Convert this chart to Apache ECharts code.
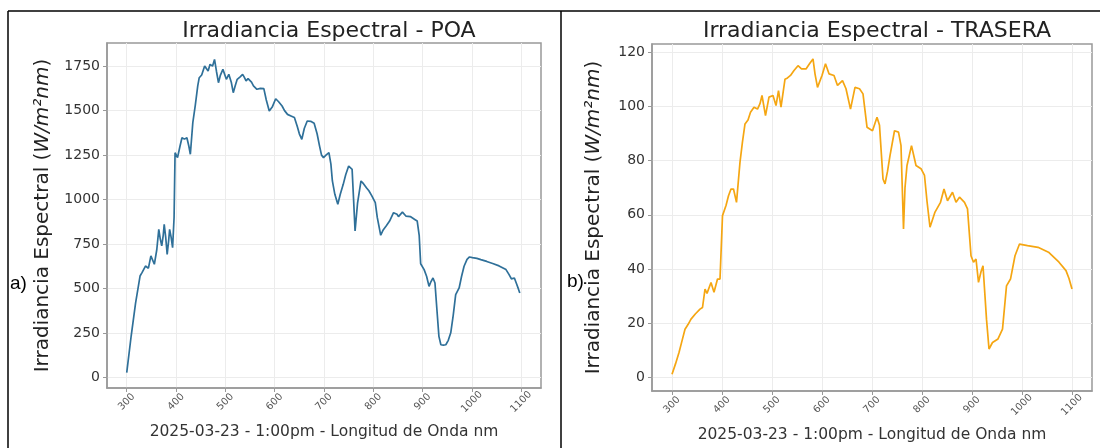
<!DOCTYPE html>
<html>
<head>
    <meta charset="utf-8">
    <title>Irradiancia Espectral</title>
    <script src="https://cdn.jsdelivr.net/npm/echarts@6/dist/echarts.min.js"></script>
    <style>
        html, body { margin: 0; padding: 0; background: #fff; }
    </style>
</head>
<body>
    <div id="main" style="width: 1107px;height:448px;"></div>
    <script type="text/javascript">
        // ticks
        var xTicks = [300, 400, 500, 600, 700, 800, 900, 1000, 1100];
        var poaTicks = [0, 250, 500, 750, 1000, 1250, 1500, 1750];
        var traTicks = [0, 20, 40, 60, 80, 100, 120];

        // POA (frontal)
        var poaNm = [300, 309, 318, 327, 331, 338, 344, 349, 356, 361, 365, 368, 371, 374, 376, 379, 382, 385, 387, 390,
            393, 396, 398, 403, 408, 412, 417, 422, 426, 429, 434, 439, 444, 447, 452, 458, 462, 465, 469, 474,
            478, 482, 486, 490, 495, 499, 502, 507, 512, 516, 520, 524, 530, 535, 538, 542, 546, 549, 553, 557,
            560, 564, 571, 578, 583, 589, 595, 602, 608, 615, 620, 626, 633, 640, 646, 650, 655, 660, 666, 673,
            680, 686, 691, 695, 699, 704, 710, 714, 717, 722, 728, 733, 739, 744, 750, 754, 757, 760, 763, 768,
            775, 780, 786, 791, 797, 800, 804, 808, 815, 820, 826, 833, 841, 845, 848, 851, 855, 859, 866, 875,
            884, 889, 893, 896, 903, 908, 913, 917, 921, 925, 929, 933, 937, 942, 947, 952, 957, 962, 967, 974,
            979, 984, 990, 995, 1001, 1010, 1018, 1030, 1042, 1055, 1069, 1075, 1080, 1086, 1090, 1094, 1097];
        var poaVal = [28, 234, 420, 571, 590, 627, 615, 684, 637, 720, 833, 780, 740, 800, 861, 790, 693, 770, 833, 790,
            730, 900, 1264, 1236, 1300, 1348, 1340, 1348, 1300, 1255, 1433, 1530, 1639, 1685, 1700, 1751, 1740, 1723, 1760, 1750,
            1788, 1720, 1657, 1700, 1732, 1700, 1676, 1704, 1660, 1601, 1640, 1676, 1690, 1704, 1690, 1667, 1680, 1685, 1660, 1639,
            1640, 1620, 1625, 1624, 1560, 1498, 1520, 1567, 1550, 1526, 1500, 1479, 1470, 1461, 1410, 1370, 1339, 1400, 1442, 1440,
            1429, 1370, 1301, 1250, 1236, 1250, 1264, 1200, 1105, 1030, 974, 1030, 1086, 1140, 1189, 1200, 1170, 1000, 824, 980,
            1105, 1090, 1067, 1050, 1021, 1010, 983, 900, 800, 830, 852, 880, 927, 935, 918, 905, 907, 930, 908, 905,
            889, 880, 800, 640, 607, 570, 513, 540, 560, 532, 380, 232, 185, 183, 185, 210, 252, 350, 466, 504,
            570, 626, 665, 678, 674, 670, 663, 653, 641, 628, 607, 580, 555, 560, 530, 500, 476];

        // TRASERA (posterior)
        var traNm = [300, 307, 314, 320, 326, 332, 338, 347, 356, 361, 366, 370, 373, 378, 384, 391, 396, 401, 408, 413,
            418, 423, 429, 436, 441, 446, 452, 457, 464, 471, 476, 480, 487, 494, 502, 508, 513, 518, 526, 531,
            537, 544, 552, 559, 568, 575, 582, 586, 591, 600, 607, 614, 624, 631, 641, 648, 657, 666, 675, 682,
            690, 701, 710, 715, 722, 726, 731, 736, 745, 753, 758, 763, 766, 770, 779, 788, 798, 805, 810, 816,
            826, 837, 844, 851, 861, 868, 875, 885, 891, 898, 903, 908, 913, 918, 922, 929, 934, 941, 952, 961,
            969, 977, 986, 995, 1011, 1032, 1053, 1074, 1088, 1094, 1100];
        var traVal = [1.2, 5, 9.2, 13.5, 17.8, 19.5, 21.5, 23.5, 25.2, 25.8, 32.6, 31, 31.4, 35, 31.4, 36.3, 36.3, 59.7, 63.4, 67,
            69.5, 69.5, 64.6, 79.4, 87, 93.5, 95, 97.8, 99.7, 99, 101, 104, 96.6, 103.4, 104, 100.3, 105.8, 99.7, 110, 110.5,
            111.4, 113.2, 115, 113.8, 113.8, 115.7, 117.5, 112, 107, 111.4, 115.7, 112, 111.4, 107.7, 109.5, 106.5, 99, 107, 106.5, 104.6,
            92.3, 91, 96, 93, 73.2, 71.4, 76, 81.8, 91, 90.5, 85.5, 54.8, 70, 78.2, 85.5, 78.2, 77, 74.5, 65, 55.4,
            61, 64.6, 69.5, 65.2, 68.3, 64.6, 66.5, 64.6, 62.2, 44.9, 42.5, 43.7, 35.1, 39, 41.2, 21.5, 10.5, 12.9, 14.2, 17.8,
            33.8, 36.3, 44.9, 49.2, 48.6, 48, 46.2, 42.5, 39.4, 36.5, 32.6];

        function pairs(xs, ys) {
            var out = [];
            for (var i = 0; i < xs.length; i++) {
                out.push([xs[i], ys[i]]);
            }
            return out;
        }

        // sin separador de miles
        function plain(v) {
            return String(v);
        }

        var fontFam = 'DejaVu Sans';
        var yName = '{n|Irradiancia Espectral (}{i|W/m²nm}{n|)}';

        function xAxisCfg(idx) {
            return {
                type: 'value',
                gridIndex: idx,
                min: 260,
                max: 1140,
                name: '2025-03-23 - 1:00pm - Longitud de Onda nm',
                nameLocation: 'middle',
                nameGap: 36,
                nameTextStyle: { fontFamily: fontFam, fontSize: 15.5, color: '#333' },
                axisLine: { show: true, onZero: false, lineStyle: { color: '#999', width: 1.5 } },
                axisTick: { show: true, length: 4, customValues: xTicks, lineStyle: { color: '#999' } },
                axisLabel: {
                    customValues: xTicks,
                    formatter: plain,
                    rotate: 45,
                    align: 'center',
                    verticalAlign: 'middle',
                    margin: 14,
                    fontFamily: fontFam,
                    fontSize: 10,
                    color: '#555'
                },
                splitLine: { show: true, lineStyle: { color: '#ececec', width: 1 } }
            };
        }

        function yAxisCfg(idx, min, max, ticks, gap) {
            return {
                type: 'value',
                gridIndex: idx,
                min: min,
                max: max,
                name: yName,
                nameLocation: 'middle',
                nameGap: gap,
                nameTextStyle: {
                    rich: {
                        n: { fontFamily: fontFam, fontSize: 20, color: '#222' },
                        i: { fontFamily: fontFam, fontSize: 20, fontStyle: 'italic', color: '#222' }
                    }
                },
                axisLine: { show: true, onZero: false, lineStyle: { color: '#999', width: 1.5 } },
                axisTick: { show: true, length: 4, customValues: ticks, lineStyle: { color: '#999' } },
                axisLabel: { customValues: ticks, formatter: plain, margin: 7, fontFamily: fontFam, fontSize: 14, color: '#333' },
                splitLine: { show: true, lineStyle: { color: '#ececec', width: 1 } }
            };
        }

        var chart = echarts.init(document.getElementById('main'));
        var option = {
            animation: false,
            backgroundColor: '#fff',
            title: [
                {
                    text: 'Irradiancia Espectral - POA',
                    left: 324, top: 15, textAlign: 'center',
                    textStyle: { fontFamily: fontFam, fontSize: 22, fontWeight: 'normal', color: '#222' }
                },
                {
                    text: 'Irradiancia Espectral - TRASERA',
                    left: 872, top: 15, textAlign: 'center',
                    textStyle: { fontFamily: fontFam, fontSize: 22, fontWeight: 'normal', color: '#222' }
                }
            ],
            grid: [
                { left: 107, top: 43, width: 434, height: 345, show: true, borderColor: '#999', borderWidth: 1.5 },
                { left: 652, top: 44, width: 440, height: 348, show: true, borderColor: '#999', borderWidth: 1.5 }
            ],
            xAxis: [xAxisCfg(0), xAxisCfg(1)],
            yAxis: [
                yAxisCfg(0, -58, 1880, poaTicks, 54),
                yAxisCfg(1, -5, 123, traTicks, 48)
            ],
            series: [
                {
                    name: 'POA',
                    type: 'line',
                    xAxisIndex: 0,
                    yAxisIndex: 0,
                    showSymbol: false,
                    lineStyle: { color: '#2f7099', width: 1.7 },
                    itemStyle: { color: '#2f7099' },
                    data: pairs(poaNm, poaVal)
                },
                {
                    name: 'TRASERA',
                    type: 'line',
                    xAxisIndex: 1,
                    yAxisIndex: 1,
                    showSymbol: false,
                    lineStyle: { color: '#f5a612', width: 1.7 },
                    itemStyle: { color: '#f5a612' },
                    data: pairs(traNm, traVal)
                }
            ],
            graphic: [
                { type: 'line', shape: { x1: 8, y1: 11, x2: 1100, y2: 11 }, style: { stroke: '#000', lineWidth: 1.5 } },
                { type: 'line', shape: { x1: 8, y1: 11, x2: 8, y2: 448 }, style: { stroke: '#000', lineWidth: 1.5 } },
                { type: 'line', shape: { x1: 561, y1: 11, x2: 561, y2: 448 }, style: { stroke: '#000', lineWidth: 1.5 } },
                { type: 'text', left: 10, top: 274, style: { text: 'a)', font: '19px "Liberation Sans"', fill: '#000' } },
                { type: 'text', left: 567, top: 272, style: { text: 'b)', font: '19px "Liberation Sans"', fill: '#000' } }
            ]
        };
        chart.setOption(option);
    </script>
</body>
</html>
